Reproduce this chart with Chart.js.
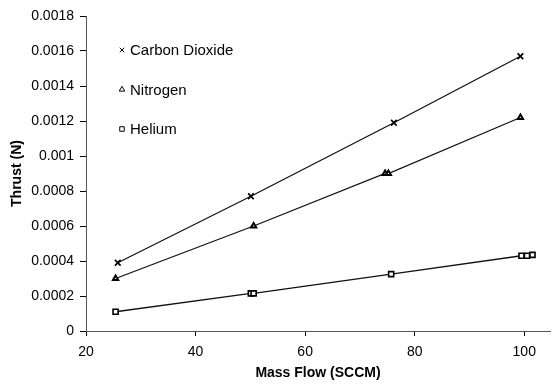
<!DOCTYPE html>
<html>
<head>
<meta charset="utf-8">
<title>Thrust vs Mass Flow</title>
<script src="https://cdn.jsdelivr.net/npm/chart.js"></script>
<style>
  body { margin: 0; background: #fff; }
  #wrap { width: 556px; height: 387px; }
</style>
</head>
<body>
<div id="wrap"><canvas id="thrust" width="556" height="387"></canvas></div>
<script>
// values: mass flow (SCCM) vs thrust (N)
var co2Flow = [25.8, 50.1, 76.2, 99.3];
var co2Thrust = [0.00039, 0.00077, 0.00119, 0.00157];
var n2Flow = [25.4, 50.6, 74.6, 75.2, 99.3];
var n2Thrust = [0.0003, 0.0006, 0.0009, 0.0009, 0.00122];
var heFlow = [25.4, 50.1, 50.6, 75.7, 99.5, 100.5, 101.5];
var heThrust = [0.00011, 0.000215, 0.000215, 0.000325, 0.00043, 0.00043, 0.000435];

var seriesNames = ['Carbon Dioxide', 'Nitrogen', 'Helium'];
var xTicks = [20, 40, 60, 80, 100];
var yTicks = [0, 0.0002, 0.0004, 0.0006, 0.0008, 0.001, 0.0012, 0.0014, 0.0016, 0.0018];
var yTickLabels = ['0', '0.0002', '0.0004', '0.0006', '0.0008', '0.001', '0.0012', '0.0014', '0.0016', '0.0018'];

var FONT = '"Liberation Sans", Arial, sans-serif';

function toPoints(xs, ys) {
    return xs.map(function (x, i) { return { x: x, y: ys[i] }; });
}

function series(label, xs, ys, style, radius, markerWidth) {
    return {
        label: label,
        data: toPoints(xs, ys),
        showLine: true,
        borderColor: '#111',
        borderWidth: 1.3,
        pointStyle: style,
        pointRadius: radius,
        pointBorderWidth: markerWidth,
        pointBorderColor: '#000',
        pointBackgroundColor: '#fff'
    };
}

// legend sits inside the plot area, top left
var insideLegend = {
    id: 'insideLegend',
    afterDatasetsDraw: function (chart) {
        var ctx = chart.ctx;
        var area = chart.chartArea;
        ctx.save();
        chart.data.datasets.forEach(function (ds, i) {
            var y = area.top + 34 + i * 39.5;
            var x = area.left + 36;
            ctx.fillStyle = '#fff';
            ctx.strokeStyle = '#000';
            ctx.lineWidth = 1;
            Chart.helpers.drawPoint(ctx, { pointStyle: ds.pointStyle, radius: 3.2, borderWidth: 1, rotation: 0 }, x, y);
            ctx.fillStyle = '#000';
            ctx.font = '15px ' + FONT;
            ctx.textBaseline = 'middle';
            ctx.textAlign = 'left';
            ctx.fillText(ds.label, x + 8, y + 1);
        });
        ctx.restore();
    }
};

var ctx = document.getElementById('thrust');
new Chart(ctx, {
    type: 'scatter',
    data: {
        datasets: [
            series(seriesNames[0], co2Flow, co2Thrust, 'crossRot', 4, 1.7),
            series(seriesNames[1], n2Flow, n2Thrust, 'triangle', 3, 2),
            series(seriesNames[2], heFlow, heThrust, 'rect', 3.6, 1.6)
        ]
    },
    options: {
        responsive: false,
        animation: false,
        layout: { padding: { top: 16, right: 0, left: 0, bottom: 0 } },
        plugins: {
            legend: { display: false },
            tooltip: { enabled: false }
        },
        scales: {
            x: {
                type: 'linear',
                min: 20,
                max: 104.7,
                afterBuildTicks: function (scale) {
                    scale.ticks = xTicks.map(function (v) { return { value: v }; });
                },
                afterFit: function (scale) { scale.height = 56; },
                grid: { drawOnChartArea: false, drawTicks: true, tickLength: 5, color: '#000' },
                border: { display: true, color: '#555', width: 1 },
                ticks: { color: '#000', padding: 8, maxRotation: 0, font: { family: FONT, size: 14 } },
                title: {
                    display: true,
                    text: 'Mass Flow (SCCM)',
                    color: '#000',
                    padding: { top: 0, bottom: 5 },
                    font: { family: FONT, size: 14, weight: 'bold' }
                }
            },
            y: {
                type: 'linear',
                min: 0,
                max: 0.0018,
                afterBuildTicks: function (scale) {
                    scale.ticks = yTicks.map(function (v) { return { value: v }; });
                },
                afterFit: function (scale) { scale.width = 86; },
                grid: { drawOnChartArea: false, drawTicks: true, tickLength: 6, color: '#000' },
                border: { display: true, color: '#555', width: 1 },
                ticks: {
                    color: '#000',
                    padding: 6,
                    font: { family: FONT, size: 14 },
                    callback: function (value) {
                        var i = yTicks.indexOf(value);
                        return i >= 0 ? yTickLabels[i] : '';
                    }
                },
                title: {
                    display: true,
                    text: 'Thrust (N)',
                    color: '#000',
                    padding: { top: 9, bottom: 0 },
                    font: { family: FONT, size: 14, weight: 'bold' }
                }
            }
        }
    },
    plugins: [insideLegend]
});
</script>
</body>
</html>
